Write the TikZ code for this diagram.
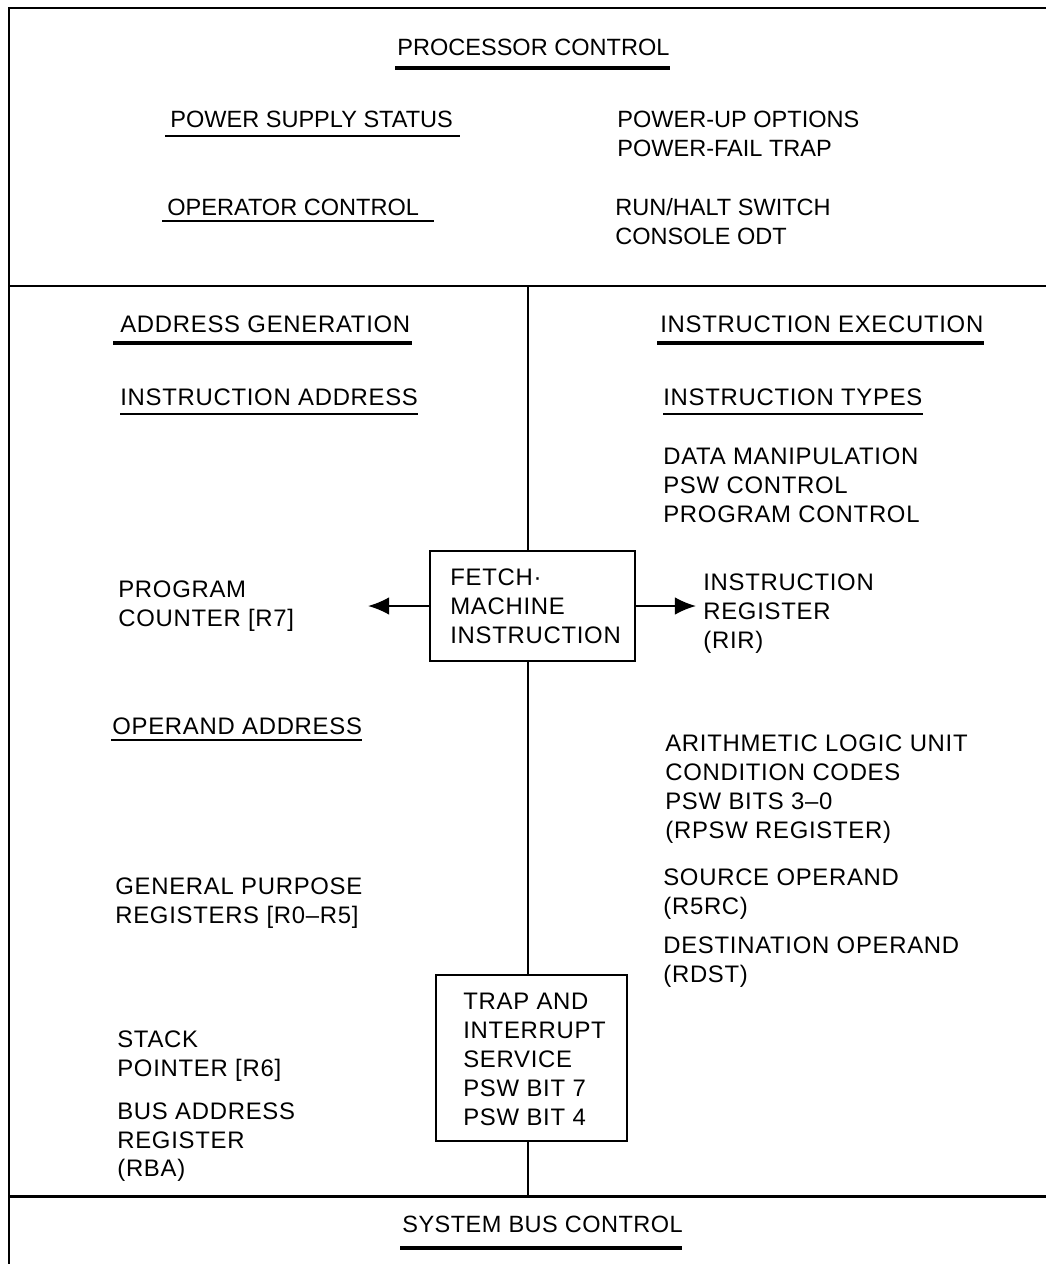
\documentclass[tikz,border=0pt]{standalone}
\usepackage{fontspec}
\setmainfont{Liberation Sans}
\newfontfamily\spacedfont[LetterSpace=3]{Liberation Sans}
\newfontfamily\bottomfont[LetterSpace=2]{Liberation Sans}
\usetikzlibrary{arrows.meta}
\newcommand{\tl}[4]{\node[txt] (#1) at (#2,#3) {#4};}
\newcommand{\toptl}[4]{\node[txttop] (#1) at (#2,#3) {#4};}
\begin{document}
\begin{tikzpicture}[x=0.02cm,y=-0.02cm,
  txt/.style={inner sep=0pt,anchor=base west,font=\spacedfont\fontsize{13.6}{16}\selectfont},
  txttop/.style={inner sep=0pt,anchor=base west,font=\fontsize{13.4}{16}\selectfont},
  txtbot/.style={inner sep=0pt,anchor=base west,font=\bottomfont\fontsize{13.4}{16}\selectfont},
  frame/.style={line width=1.7pt},
  vline/.style={line width=1.1pt},
  ulthick/.style={line width=1.9pt},
  ulthin/.style={line width=1.0pt},
  boxst/.style={draw,line width=1.1pt,inner sep=0pt},
  arr/.style={line width=1.1pt,-{Latex[length=12pt,width=10pt]}}]
\useasboundingbox (0,0) rectangle (1046,1264);
% frame
\coordinate (fbl) at (9,1264);
\coordinate (ftl) at (9,8);
\coordinate (ftr) at (1046,8);
\coordinate (d1l) at (9,286);
\coordinate (d1r) at (1046,286);
\coordinate (d2l) at (9,1196);
\coordinate (d2r) at (1046,1196);
\draw[frame] (fbl) -- (ftl) -- (ftr);
\draw[frame] (d1l) -- (d1r);
\draw[frame] (d2l) -- (d2r);
% boxes
\node[boxst,minimum width=4.1cm,minimum height=2.2cm] (fetch) at (532.5,606) {};
\node[boxst,minimum width=3.82cm,minimum height=3.32cm] (trap) at (531.5,1058) {};
\coordinate (vtop) at (528,286);
\coordinate (vbot) at (528,1196);
\draw[vline] (vtop) -- (vtop |- fetch.north);
\draw[vline] (vtop |- fetch.south) -- (vtop |- trap.north);
\draw[vline] (vtop |- trap.south) -- (vbot);
\coordinate (pctip) at (368,606);
\coordinate (irtip) at (696,606);
\draw[arr] (fetch.west) -- (pctip);
\draw[arr] (fetch.east) -- (irtip);
% top section
\toptl{pc}{397}{56}{PROCESSOR CONTROL}
\toptl{pss}{170}{128}{POWER SUPPLY STATUS}
\toptl{puo}{617}{128}{POWER-UP OPTIONS}
\toptl{pft}{617}{156}{POWER-FAIL TRAP}
\toptl{oc}{167}{215}{OPERATOR CONTROL}
\toptl{rhs}{615}{215}{RUN/HALT SWITCH}
\toptl{codt}{615}{244}{CONSOLE ODT}
\draw[ulthick] (395,68) -- (670,68);
\draw[ulthin] (165,136) -- (460,136);
\draw[ulthin] (162,221) -- (434,221);
% middle left
\tl{ag}{120}{332}{ADDRESS GENERATION}
\tl{ia}{120}{405}{INSTRUCTION ADDRESS}
\draw[ulthick] (113,343) -- (412,343);
\draw[ulthin] ([yshift=-5.1pt]ia.base west) -- ([yshift=-5.1pt]ia.base east);
\tl{pcl1}{118}{597}{PROGRAM}
\tl{pcl2}{118}{626}{COUNTER [R7]}
\tl{oa}{112}{734}{OPERAND ADDRESS}
\draw[ulthin] ([yshift=-3.5pt,xshift=-0.5pt]oa.base west) -- ([yshift=-3.5pt]oa.base east);
\tl{gp1}{115}{894}{GENERAL PURPOSE}
\tl{gp2}{115}{923}{REGISTERS [R0–R5]}
\tl{sp1}{117}{1047}{STACK}
\tl{sp2}{117}{1076}{POINTER [R6]}
\tl{ba1}{117}{1119}{BUS ADDRESS}
\tl{ba2}{117}{1148}{REGISTER}
\tl{ba3}{117}{1176}{(RBA)}
% middle right
\tl{ie}{660}{332}{INSTRUCTION EXECUTION}
\tl{it}{663}{405}{INSTRUCTION TYPES}
\draw[ulthick] (657,343) -- (984,343);
\draw[ulthin] ([yshift=-5.1pt]it.base west) -- ([yshift=-5.1pt]it.base east);
\tl{dm}{663}{464}{DATA MANIPULATION}
\tl{pswc}{663}{493}{PSW CONTROL}
\tl{prc}{663}{522}{PROGRAM CONTROL}
\tl{ir1}{703}{590}{INSTRUCTION}
\tl{ir2}{703}{619}{REGISTER}
\tl{ir3}{703}{648}{(RIR)}
\tl{alu1}{665}{751}{ARITHMETIC LOGIC UNIT}
\tl{alu2}{665}{780}{CONDITION CODES}
\tl{alu3}{665}{809}{PSW BITS 3–0}
\tl{alu4}{665}{838}{(RPSW REGISTER)}
\tl{so1}{663}{885}{SOURCE OPERAND}
\tl{so2}{663}{914}{(R5RC)}
\tl{do1}{663}{953}{DESTINATION OPERAND}
\tl{do2}{663}{982}{(RDST)}
% box texts
\tl{f1}{450}{585}{FETCH·}
\tl{f2}{450}{614}{MACHINE}
\tl{f3}{450}{643}{INSTRUCTION}
\tl{t1}{463}{1009}{TRAP AND}
\tl{t2}{463}{1038}{INTERRUPT}
\tl{t3}{463}{1067}{SERVICE}
\tl{t4}{463}{1096}{PSW BIT 7}
\tl{t5}{463}{1125}{PSW BIT 4}
% bottom
\node[txtbot] (sbc) at (402,1232) {SYSTEM BUS CONTROL};
\draw[ulthick] (400,1248) -- (682,1248);
\end{tikzpicture}
\end{document}
